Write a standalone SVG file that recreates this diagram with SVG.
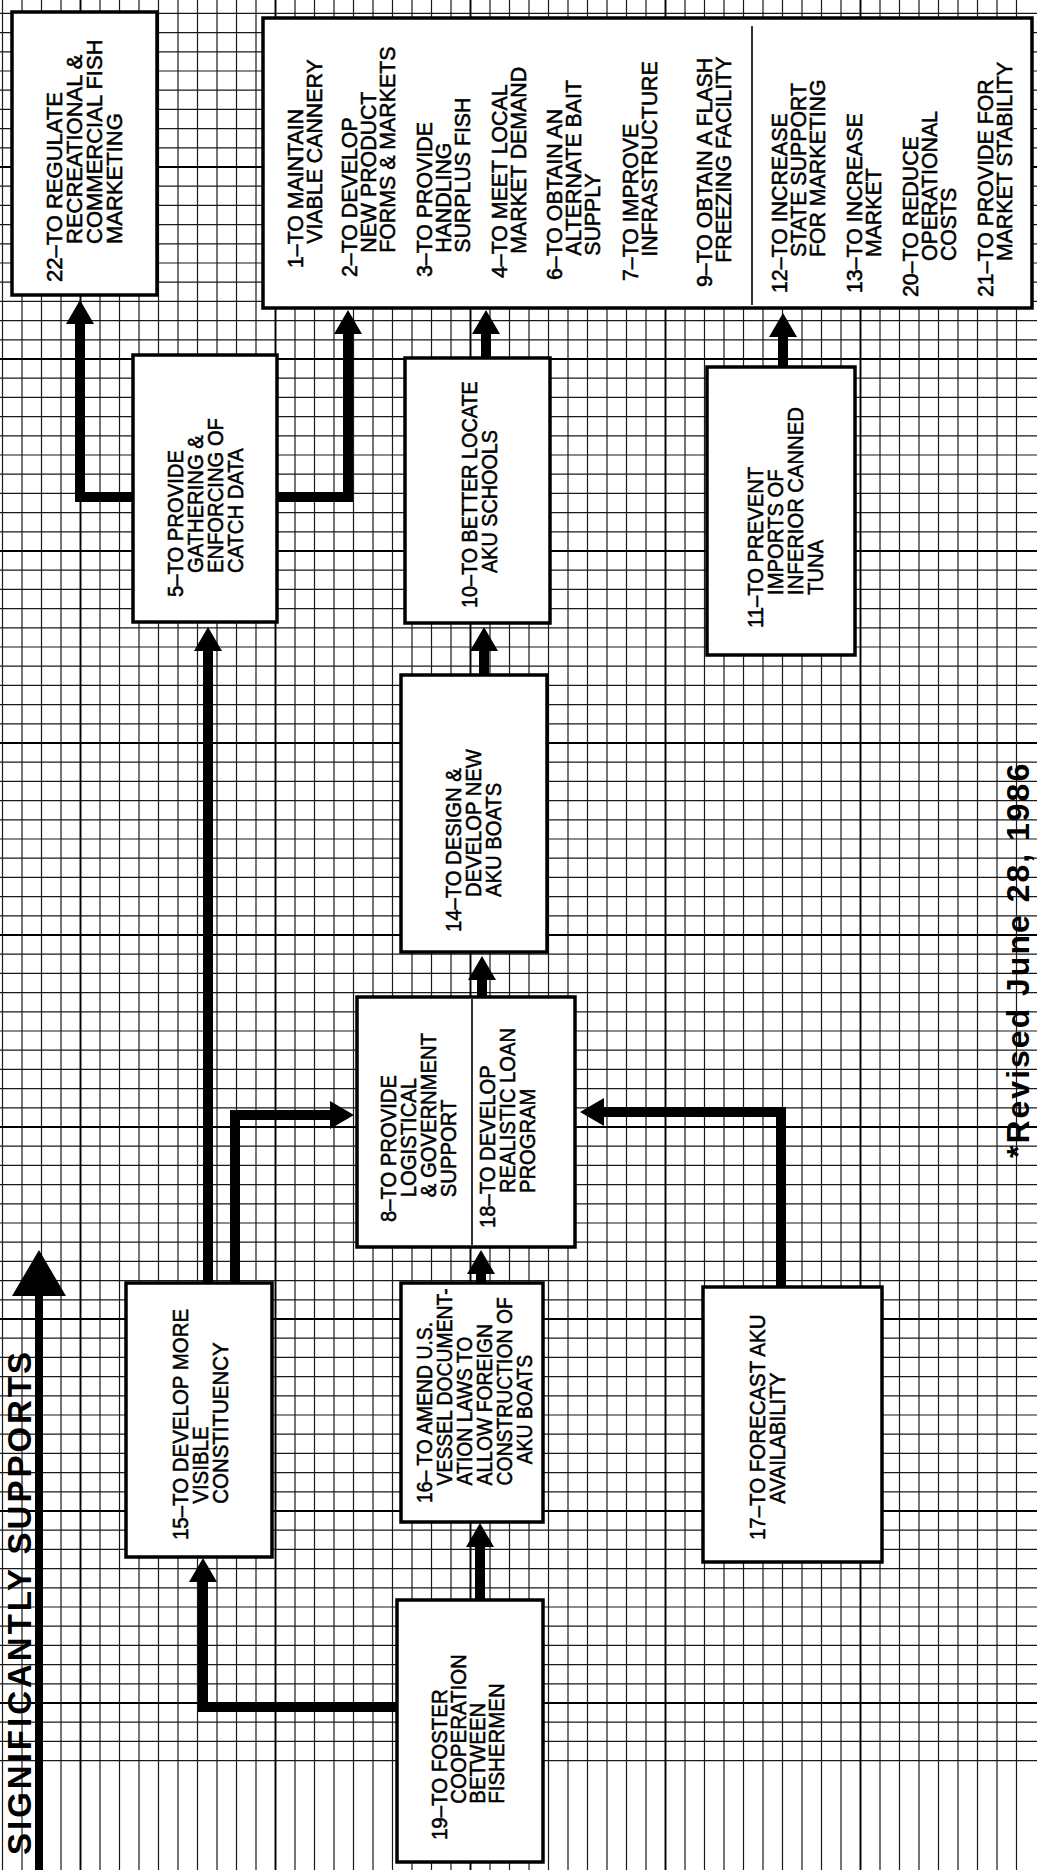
<svg xmlns="http://www.w3.org/2000/svg" width="1037" height="1870" viewBox="0 0 1037 1870">
<style>
.grid{fill:none;stroke:#1a1a1a;stroke-width:1.2}
.gridb{fill:none;stroke:#000;stroke-width:1.8}
.box{fill:#fff;stroke:#000;stroke-width:3.5}
.div{stroke:#000;stroke-width:1.6}
.t{font-family:"Liberation Sans",Arial,sans-serif;font-size:22px;fill:#000;stroke:#000;stroke-width:0.55}
.con{fill:none;stroke:#000;stroke-width:10;stroke-linejoin:miter}
.big{font-family:"Liberation Sans",Arial,sans-serif;font-size:33px;font-weight:bold;letter-spacing:3px;fill:#000}
.note{font-family:"Liberation Sans",Arial,sans-serif;font-size:32px;font-weight:bold;letter-spacing:2px;fill:#000}
</style>
<defs>
<marker id="ah" markerUnits="userSpaceOnUse" markerWidth="24" markerHeight="28" viewBox="0 0 24 28" refX="1" refY="14" orient="auto"><path d="M0,0L24,14L0,28z" fill="#000"/></marker>
</defs>
<rect x="0" y="0" width="1037" height="1870" fill="#fff"/>
<g id="grid">
<path class="grid" d="M2.5 0V1870m19.5-1870v1870m19.5-1870v1870m19.5-1870v1870m19.5-1870v1870m19.5-1870v1870m19.5-1870v1870m19.5-1870v1870m19.5-1870v1870m19.5-1870v1870m19.5-1870v1870m19.5-1870v1870m19.5-1870v1870m19.5-1870v1870m19.5-1870v1870m19.5-1870v1870m19.5-1870v1870m19.5-1870v1870m19.5-1870v1870m19.5-1870v1870m19.5-1870v1870m19.5-1870v1870m19.5-1870v1870m19.5-1870v1870m19.5-1870v1870m19.5-1870v1870m19.5-1870v1870m19.5-1870v1870m19.5-1870v1870m19.5-1870v1870m19.5-1870v1870m19.5-1870v1870m19.5-1870v1870m19.5-1870v1870m19.5-1870v1870m19.5-1870v1870m19.5-1870v1870m19.5-1870v1870m19.5-1870v1870m19.5-1870v1870m19.5-1870v1870m19.5-1870v1870m19.5-1870v1870m19.5-1870v1870m19.5-1870v1870m19.5-1870v1870m19.5-1870v1870m19.5-1870v1870m19.5-1870v1870m19.5-1870v1870m19.5-1870v1870m19.5-1870v1870m19.5-1870v1870"/>
<path class="grid" d="M0 13.4H1037m-1037 19.2h1037m-1037 19.2h1037m-1037 19.2h1037m-1037 19.2h1037m-1037 19.2h1037m-1037 19.2h1037m-1037 19.2h1037m-1037 19.2h1037m-1037 19.2h1037m-1037 19.2h1037m-1037 19.2h1037m-1037 19.2h1037m-1037 19.2h1037m-1037 19.2h1037m-1037 19.2h1037m-1037 19.2h1037m-1037 19.2h1037m-1037 19.2h1037m-1037 19.2h1037m-1037 19.2h1037m-1037 19.2h1037m-1037 19.2h1037m-1037 19.2h1037m-1037 19.2h1037m-1037 19.2h1037m-1037 19.2h1037m-1037 19.2h1037m-1037 19.2h1037m-1037 19.2h1037m-1037 19.2h1037m-1037 19.2h1037m-1037 19.2h1037m-1037 19.2h1037m-1037 19.2h1037m-1037 19.2h1037m-1037 19.2h1037m-1037 19.2h1037m-1037 19.2h1037m-1037 19.2h1037m-1037 19.2h1037m-1037 19.2h1037m-1037 19.2h1037m-1037 19.2h1037m-1037 19.2h1037m-1037 19.2h1037m-1037 19.2h1037m-1037 19.2h1037m-1037 19.2h1037m-1037 19.2h1037m-1037 19.2h1037m-1037 19.2h1037m-1037 19.2h1037m-1037 19.2h1037m-1037 19.2h1037m-1037 19.2h1037m-1037 19.2h1037m-1037 19.2h1037m-1037 19.2h1037m-1037 19.2h1037m-1037 19.2h1037m-1037 19.2h1037m-1037 19.2h1037m-1037 19.2h1037m-1037 19.2h1037m-1037 19.2h1037m-1037 19.2h1037m-1037 19.2h1037m-1037 19.2h1037m-1037 19.2h1037m-1037 19.2h1037m-1037 19.2h1037m-1037 19.2h1037m-1037 19.2h1037m-1037 19.2h1037m-1037 19.2h1037m-1037 19.2h1037m-1037 19.2h1037m-1037 19.2h1037m-1037 19.2h1037m-1037 19.2h1037m-1037 19.2h1037m-1037 19.2h1037m-1037 19.2h1037m-1037 19.2h1037m-1037 19.2h1037m-1037 19.2h1037m-1037 19.2h1037m-1037 19.2h1037m-1037 19.2h1037m-1037 19.2h1037m-1037 19.2h1037"/>
<path class="gridb" d="M80.5 0V1870M275.5 0V1870M470.5 0V1870M665.5 0V1870M860.5 0V1870M0 167H1037M0 359H1037M0 551H1037M0 743H1037M0 935H1037M0 1127H1037M0 1319H1037M0 1511H1037M0 1703H1037"/>
</g>
<g id="connectors">
<path class="con" d="M133 497H80V323" marker-end="url(#ah)"/>
<path class="con" d="M277 497H348V333" marker-end="url(#ah)"/>
<path class="con" d="M486 358V333" marker-end="url(#ah)"/>
<path class="con" d="M783 368V336" marker-end="url(#ah)"/>
<path class="con" d="M484 675V650" marker-end="url(#ah)"/>
<path class="con" d="M482 997V979" marker-end="url(#ah)"/>
<path class="con" d="M481 1283V1273" marker-end="url(#ah)"/>
<path class="con" d="M781 1287V1112H603" marker-end="url(#ah)"/>
<path class="con" d="M208 1283V650" marker-end="url(#ah)"/>
<path class="con" d="M235 1283V1115H331" marker-end="url(#ah)"/>
<path class="con" d="M480 1600V1546" marker-end="url(#ah)"/>
<path class="con" d="M397 1707H203V1581" marker-end="url(#ah)"/>
</g>
<g id="legend">
<path d="M35 1870V1296H12L39 1250L66 1296H43V1870Z" fill="#000"/>
<text class="big" transform="translate(31,1855) rotate(-90)">SIGNIFICANTLY SUPPORTS</text>
</g>
<g id="n22">
<rect class="box" x="12" y="12" width="145" height="283"/>
<text class="t" transform="translate(62,282) rotate(-90)"><tspan x="0" y="0">22–TO REGULATE</tspan><tspan x="38" y="20">RECREATIONAL &amp;</tspan><tspan x="38" y="40">COMMERCIAL FISH</tspan><tspan x="38" y="60">MARKETING</tspan></text>
</g>
<g id="n-goals">
<rect class="box" x="263" y="18" width="769" height="290"/>
<line class="div" x1="752" y1="26" x2="752" y2="305"/>
<text class="t" transform="translate(303,268) rotate(-90) scale(0.97,1)"><tspan x="0" y="0">1–TO MAINTAIN</tspan><tspan x="25" y="19">VIABLE CANNERY</tspan></text>
<text class="t" transform="translate(357,277) rotate(-90) scale(0.97,1)"><tspan x="0" y="0">2–TO DEVELOP</tspan><tspan x="25" y="19">NEW PRODUCT</tspan><tspan x="25" y="38">FORMS &amp; MARKETS</tspan></text>
<text class="t" transform="translate(432,277) rotate(-90) scale(0.97,1)"><tspan x="0" y="0">3–TO PROVIDE</tspan><tspan x="25" y="19">HANDLING</tspan><tspan x="25" y="38">SURPLUS FISH</tspan></text>
<text class="t" transform="translate(507,278) rotate(-90) scale(0.97,1)"><tspan x="0" y="0">4–TO MEET LOCAL</tspan><tspan x="25" y="19">MARKET DEMAND</tspan></text>
<text class="t" transform="translate(562,280) rotate(-90) scale(0.97,1)"><tspan x="0" y="0">6–TO OBTAIN AN</tspan><tspan x="25" y="19">ALTERNATE BAIT</tspan><tspan x="25" y="38">SUPPLY</tspan></text>
<text class="t" transform="translate(638,281) rotate(-90) scale(0.97,1)"><tspan x="0" y="0">7–TO IMPROVE</tspan><tspan x="25" y="19">INFRASTRUCTURE</tspan></text>
<text class="t" transform="translate(712,287) rotate(-90) scale(0.97,1)"><tspan x="0" y="0">9–TO OBTAIN A FLASH</tspan><tspan x="25" y="19">FREEZING FACILITY</tspan></text>
<text class="t" transform="translate(787,293) rotate(-90) scale(0.97,1)"><tspan x="0" y="0">12–TO INCREASE</tspan><tspan x="37" y="19">STATE SUPPORT</tspan><tspan x="37" y="38">FOR MARKETING</tspan></text>
<text class="t" transform="translate(862,293) rotate(-90) scale(0.97,1)"><tspan x="0" y="0">13–TO INCREASE</tspan><tspan x="37" y="19">MARKET</tspan></text>
<text class="t" transform="translate(918,297) rotate(-90) scale(0.97,1)"><tspan x="0" y="0">20–TO REDUCE</tspan><tspan x="37" y="19">OPERATIONAL</tspan><tspan x="37" y="38">COSTS</tspan></text>
<text class="t" transform="translate(993,297) rotate(-90) scale(0.97,1)"><tspan x="0" y="0">21–TO PROVIDE FOR</tspan><tspan x="37" y="19">MARKET STABILITY</tspan></text>
</g>
<g id="n5">
<rect class="box" x="133" y="355" width="144" height="267"/>
<text class="t" transform="translate(183,597) rotate(-90) scale(0.92,1)"><tspan x="0" y="0">5–TO PROVIDE</tspan><tspan x="26" y="20">GATHERING &amp;</tspan><tspan x="26" y="40">ENFORCING OF</tspan><tspan x="26" y="60">CATCH DATA</tspan></text>
</g>
<g id="n10">
<rect class="box" x="405" y="358" width="145" height="265"/>
<text class="t" transform="translate(477,608) rotate(-90) scale(0.9,1)"><tspan x="0" y="0">10–TO BETTER LOCATE</tspan><tspan x="39" y="20">AKU SCHOOLS</tspan></text>
</g>
<g id="n11">
<rect class="box" x="707" y="367" width="148" height="288"/>
<text class="t" transform="translate(763,628) rotate(-90) scale(0.92,1)"><tspan x="0" y="0">11–TO PREVENT</tspan><tspan x="36" y="20">IMPORTS OF</tspan><tspan x="36" y="40">INFERIOR CANNED</tspan><tspan x="36" y="60">TUNA</tspan></text>
</g>
<g id="n14">
<rect class="box" x="401" y="675" width="146" height="277"/>
<text class="t" transform="translate(461,932) rotate(-90) scale(0.92,1)"><tspan x="0" y="0">14–TO DESIGN &amp;</tspan><tspan x="38" y="20">DEVELOP NEW</tspan><tspan x="38" y="40">AKU BOATS</tspan></text>
</g>
<g id="n8-18">
<rect class="box" x="357" y="997" width="218" height="250"/>
<line class="div" x1="472" y1="999" x2="472" y2="1245"/>
<text class="t" transform="translate(396,1222) rotate(-90) scale(0.92,1)"><tspan x="0" y="0">8–TO PROVIDE</tspan><tspan x="27" y="20">LOGISTICAL</tspan><tspan x="27" y="40">&amp; GOVERNMENT</tspan><tspan x="27" y="60">SUPPORT</tspan></text>
<text class="t" transform="translate(495,1228) rotate(-90) scale(0.92,1)"><tspan x="0" y="0">18–TO DEVELOP</tspan><tspan x="38" y="20">REALISTIC LOAN</tspan><tspan x="38" y="40">PROGRAM</tspan></text>
</g>
<g id="n15">
<rect class="box" x="126" y="1283" width="146" height="274"/>
<text class="t" transform="translate(188,1540) rotate(-90) scale(0.93,1)"><tspan x="0" y="0">15–TO DEVELOP MORE</tspan><tspan x="39" y="20">VISIBLE</tspan><tspan x="39" y="40">CONSTITUENCY</tspan></text>
</g>
<g id="n16">
<rect class="box" x="401" y="1283" width="142" height="239"/>
<text class="t" transform="translate(432,1503) rotate(-90) scale(0.88,1)"><tspan x="0" y="0">16– TO AMEND U.S.</tspan><tspan x="20" y="20">VESSEL DOCUMENT-</tspan><tspan x="20" y="40">ATION LAWS TO</tspan><tspan x="20" y="60">ALLOW FOREIGN</tspan><tspan x="20" y="80">CONSTRUCTION OF</tspan><tspan x="44" y="100">AKU BOATS</tspan></text>
</g>
<g id="n17">
<rect class="box" x="703" y="1287" width="179" height="275"/>
<text class="t" transform="translate(765,1540) rotate(-90) scale(0.93,1)"><tspan x="0" y="0">17–TO FORECAST AKU</tspan><tspan x="39" y="20">AVAILABILITY</tspan></text>
</g>
<g id="n19">
<rect class="box" x="397" y="1600" width="146" height="262"/>
<text class="t" transform="translate(447,1840) rotate(-90) scale(0.93,1)"><tspan x="0" y="0">19–TO FOSTER</tspan><tspan x="39" y="19">COOPERATION</tspan><tspan x="39" y="38">BETWEEN</tspan><tspan x="39" y="57">FISHERMEN</tspan></text>
</g>
<g id="note">
<text class="note" transform="translate(1029,1158) rotate(-90)">*Revised June 28, 1986</text>
</g>
</svg>
